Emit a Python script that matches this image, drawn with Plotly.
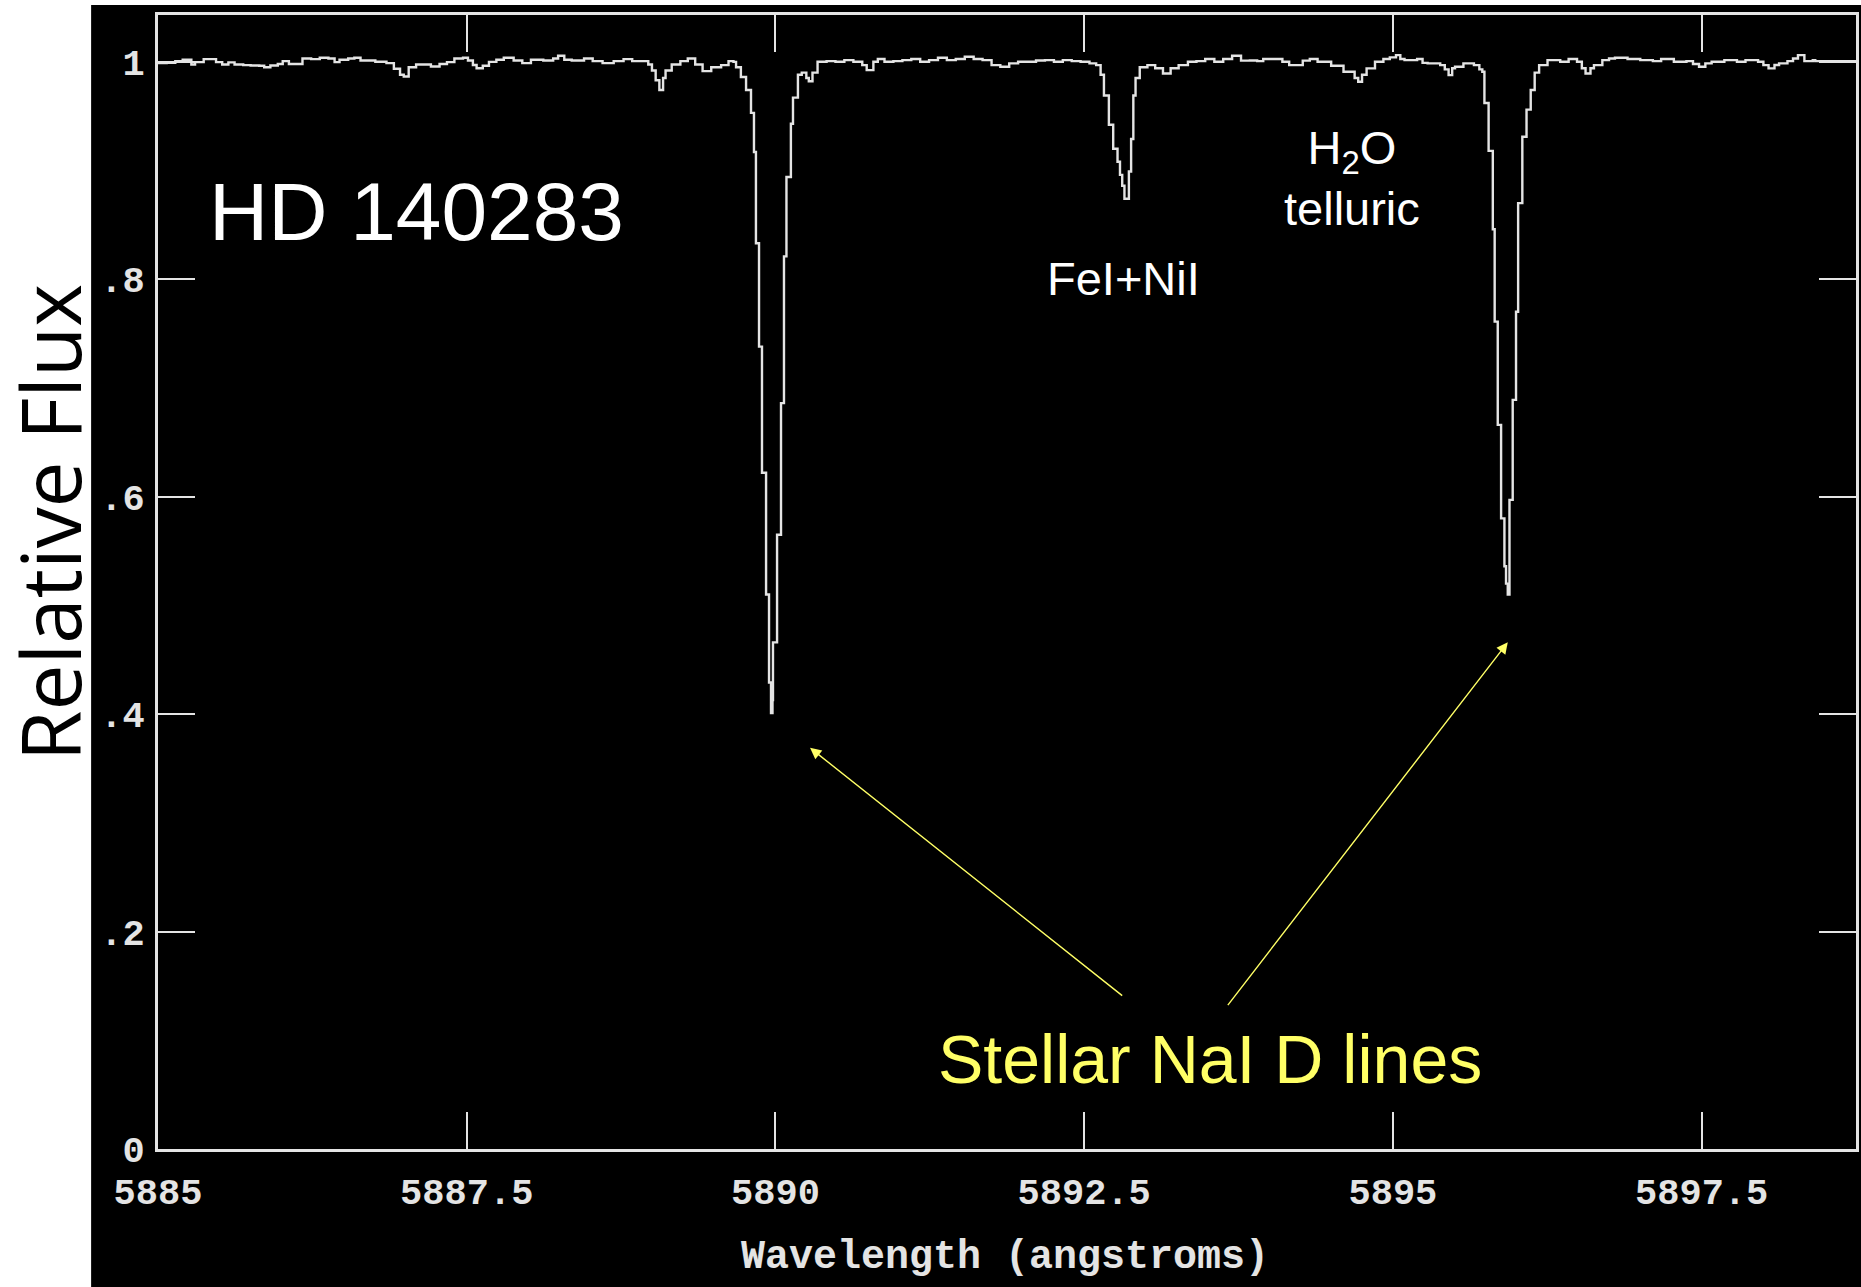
import plotly.graph_objects as go

# ---------------- spectrum of HD 140283 around the Na I D doublet ----------------
# wavelength in angstroms, flux normalised to the continuum (drawn as a step histogram)

wl_blue = [5885.00, 5885.07, 5885.14, 5885.20, 5885.27, 5885.30, 5885.37, 5885.44, 5885.47, 5885.52,
           5885.57, 5885.62, 5885.69, 5885.75, 5885.82, 5885.86, 5885.91, 5885.97, 5886.01, 5886.06,
           5886.12, 5886.17, 5886.24, 5886.31, 5886.38, 5886.43, 5886.47, 5886.54, 5886.59, 5886.64,
           5886.71, 5886.76, 5886.85, 5886.91, 5886.96, 5886.99, 5887.03, 5887.09, 5887.15, 5887.21,
           5887.28, 5887.34, 5887.40, 5887.47, 5887.51, 5887.55, 5887.58, 5887.63, 5887.68, 5887.74,
           5887.80, 5887.88, 5887.95, 5888.02, 5888.12, 5888.20, 5888.24, 5888.29, 5888.35, 5888.45,
           5888.52, 5888.60, 5888.69, 5888.77, 5888.84, 5888.92, 5888.97, 5889.00, 5889.03, 5889.06,
           5889.09, 5889.11, 5889.16, 5889.23, 5889.29, 5889.35, 5889.41, 5889.48, 5889.56, 5889.62,
           5889.66]
flux_blue = [0.9987, 0.9990, 1.0006, 1.0018, 0.9975, 0.9997, 1.0024, 1.0024, 0.9997, 0.9975,
             0.9994, 0.9975, 0.9969, 0.9966, 0.9963, 0.9950, 0.9966, 0.9980, 1.0006, 0.9980,
             0.9980, 1.0030, 1.0024, 1.0037, 1.0030, 0.9997, 1.0018, 1.0030, 1.0037, 1.0012,
             1.0012, 1.0000, 0.9987, 0.9935, 0.9880, 0.9865, 0.9950, 0.9975, 0.9975, 0.9957,
             0.9980, 0.9997, 1.0030, 1.0037, 1.0012, 0.9970, 0.9940, 0.9963, 0.9999, 1.0018,
             1.0037, 1.0012, 0.9987, 1.0018, 1.0012, 1.0030, 1.0055, 1.0018, 1.0012, 1.0030,
             1.0006, 0.9987, 1.0006, 1.0024, 1.0006, 1.0006, 0.9975, 0.9920, 0.9830, 0.9740,
             0.9850, 0.9920, 0.9975, 1.0006, 1.0030, 0.9975, 0.9914, 0.9950, 0.9969, 1.0006,
             0.9999]

# Na I D2
wl_d2 = [5889.681, 5889.720, 5889.762, 5889.802, 5889.826, 5889.842, 5889.867, 5889.891, 5889.924,
         5889.948, 5889.964, 5889.976, 5889.980, 5890.013, 5890.045, 5890.069, 5890.089, 5890.125,
         5890.142, 5890.182, 5890.213, 5890.250, 5890.270, 5890.300]
flux_d2 = [0.9950, 0.9860, 0.9740, 0.9530, 0.9170, 0.8330, 0.7380, 0.6220, 0.5100,
           0.4290, 0.4010, 0.4130, 0.4660, 0.5650, 0.6860, 0.8210, 0.8940, 0.9430,
           0.9670, 0.9880, 0.9900, 0.9850, 0.9820, 0.9900]

wl_mid = [5890.341, 5890.414, 5890.486, 5890.558, 5890.631, 5890.703, 5890.739, 5890.793, 5890.829,
          5890.883, 5890.955, 5891.028, 5891.100, 5891.172, 5891.244, 5891.316, 5891.388, 5891.460,
          5891.533, 5891.605, 5891.677, 5891.750, 5891.821, 5891.893, 5891.965, 5892.037, 5892.110,
          5892.182, 5892.255, 5892.327, 5892.399, 5892.471, 5892.543, 5892.597]
flux_mid = [1.0000, 1.0006, 1.0000, 1.0015, 1.0000, 0.9969, 0.9923, 1.0000, 1.0025,
            1.0000, 1.0006, 1.0015, 1.0025, 1.0000, 1.0015, 1.0037, 1.0015, 1.0025,
            1.0046, 1.0025, 1.0015, 0.9969, 0.9954, 0.9985, 1.0000, 1.0000, 1.0012,
            1.0015, 1.0000, 1.0015, 1.0006, 1.0000, 0.9985, 0.9969]

# Fe I + Ni I blend
wl_fe = [5892.633, 5892.660, 5892.700, 5892.735, 5892.770, 5892.790, 5892.808, 5892.826, 5892.862,
         5892.880, 5892.898, 5892.916, 5892.950, 5893.012, 5893.075, 5893.138, 5893.200, 5893.265,
         5893.340, 5893.409, 5893.480, 5893.554]
flux_fe = [0.9880, 0.9690, 0.9420, 0.9200, 0.9080, 0.8960, 0.8860, 0.8740, 0.8990,
           0.9290, 0.9690, 0.9850, 0.9950, 0.9969, 0.9940, 0.9892, 0.9940, 0.9969,
           1.0000, 1.0006, 1.0025, 1.0000]

wl_red = [5893.626, 5893.698, 5893.770, 5893.842, 5893.901, 5893.950, 5894.003, 5894.105, 5894.160,
          5894.208, 5894.270, 5894.327, 5894.390, 5894.446, 5894.500, 5894.548, 5894.600, 5894.651,
          5894.690, 5894.719, 5894.750, 5894.787, 5894.855, 5894.923, 5894.975, 5895.025, 5895.060,
          5895.094, 5895.196, 5895.240, 5895.281, 5895.383, 5895.420, 5895.451, 5895.480, 5895.503,
          5895.571, 5895.656, 5895.700, 5895.724]
flux_red = [1.0025, 1.0055, 1.0010, 1.0012, 1.0006, 1.0025, 1.0025, 1.0000, 0.9969,
            0.9969, 1.0010, 1.0025, 1.0000, 1.0000, 0.9963, 0.9963, 0.9908, 0.9908,
            0.9850, 0.9816, 0.9880, 0.9939, 1.0000, 1.0025, 1.0040, 1.0061, 1.0025,
            1.0015, 1.0025, 0.9990, 0.9985, 0.9969, 0.9930, 0.9877, 0.9940, 0.9954,
            0.9985, 0.9969, 0.9930, 0.9908]

# Na I D1
wl_d1 = [5895.741, 5895.775, 5895.809, 5895.824, 5895.849, 5895.876, 5895.903, 5895.916, 5895.930,
         5895.944, 5895.970, 5895.997, 5896.014, 5896.048, 5896.082, 5896.116, 5896.148]
flux_d1 = [0.9620, 0.9180, 0.8460, 0.7610, 0.6660, 0.5800, 0.5360, 0.5200, 0.5100,
           0.5970, 0.6890, 0.7700, 0.8700, 0.9310, 0.9560, 0.9740, 0.9900]

wl_tail = [5896.184, 5896.252, 5896.355, 5896.423, 5896.491, 5896.530, 5896.560, 5896.600, 5896.628,
           5896.696, 5896.750, 5896.798, 5896.900, 5897.003, 5897.105, 5897.172, 5897.275, 5897.377,
           5897.430, 5897.479, 5897.530, 5897.581, 5897.684, 5897.786, 5897.855, 5897.957, 5898.000,
           5898.042, 5898.090, 5898.127, 5898.195, 5898.240, 5898.280, 5898.332, 5898.400, 5898.420,
           5898.750]
flux_tail = [0.9969, 1.0015, 1.0000, 1.0025, 1.0000, 0.9940, 0.9892, 0.9940, 0.9969,
             1.0015, 1.0030, 1.0037, 1.0025, 1.0015, 1.0006, 1.0025, 1.0000, 1.0006,
             0.9980, 0.9954, 0.9985, 1.0000, 1.0015, 1.0000, 1.0015, 1.0000, 0.9969,
             0.9939, 0.9970, 0.9985, 1.0006, 1.0030, 1.0061, 1.0006, 1.0015, 1.0006,
             1.0006]

x_tickvals = [5885, 5887.5, 5890, 5892.5, 5895, 5897.5]
x_ticktext = ["5885", "5887.5", "5890", "5892.5", "5895", "5897.5"]
y_tickvals = [0, 0.2, 0.4, 0.6, 0.8, 1.0]
y_ticktext = ["0", ".2", ".4", ".6", ".8", "1"]

wavelength = wl_blue + wl_d2 + wl_mid + wl_fe + wl_red + wl_d1 + wl_tail
flux = flux_blue + flux_d2 + flux_mid + flux_fe + flux_red + flux_d1 + flux_tail

W, H = 1861, 1287
L, R, T, B = 158, 2, 15, 138
pw, ph = W - L - R, H - T - B


def px_to_paper_x(px):
    return (px - L) / pw


def px_to_paper_y(py):
    return (H - B - py) / ph


FG = "#e4e4e4"
YEL = "#ffff66"
MONO = "Liberation Mono"
SANS = "Liberation Sans"

fig = go.Figure()
fig.add_trace(go.Scatter(
    x=wavelength, y=flux, mode="lines",
    line=dict(color=FG, width=2.4, shape="hv"),
    hoverinfo="skip", showlegend=False,
))

axis_common = dict(
    showline=True, linecolor=FG, linewidth=3, mirror="ticks",
    ticks="inside", ticklen=37, tickwidth=2, tickcolor=FG,
    showgrid=False, zeroline=False,
    tickfont=dict(family=MONO, size=37, color=FG, weight="bold"),
)

fig.update_xaxes(range=[5885, 5898.75], tickvals=x_tickvals, ticktext=x_ticktext,
                 ticklabelstandoff=8, **axis_common)
fig.update_yaxes(range=[0, 1.043], tickvals=y_tickvals, ticktext=y_ticktext,
                 ticklabelstandoff=3, **axis_common)

annotations = [
    dict(text="Wavelength (angstroms)", xref="paper", yref="paper",
         x=px_to_paper_x(1006), y=px_to_paper_y(1257), xanchor="center", yanchor="middle",
         showarrow=False, font=dict(family=MONO, size=40, color=FG, weight="bold")),
    dict(text="Relative Flux", xref="paper", yref="paper",
         x=px_to_paper_x(49), y=px_to_paper_y(523), xanchor="center", yanchor="middle",
         textangle=-90, showarrow=False, borderpad=0,
         font=dict(family="Open Sans", size=82, color="#000000")),
    dict(text="HD 140283", xref="x", yref="y", x=5885.40, y=0.862,
         xanchor="left", yanchor="middle", showarrow=False,
         font=dict(family=SANS, size=82, color="#ffffff")),
    dict(text="FeI+NiI", xref="x", yref="y", x=5892.82, y=0.801,
         xanchor="center", yanchor="middle", showarrow=False,
         font=dict(family=SANS, size=47, color="#ffffff")),
    dict(text="H<sub>2</sub>O<br>telluric", xref="x", yref="y", x=5894.665, y=0.893,
         xanchor="center", yanchor="middle", showarrow=False,
         font=dict(family=SANS, size=47, color="#ffffff")),
    dict(text="Stellar NaI D lines", xref="x", yref="y", x=5893.52, y=0.083,
         xanchor="center", yanchor="middle", showarrow=False,
         font=dict(family=SANS, size=68, color=YEL)),
    # arrows pointing at the two sodium line cores
    dict(text="", xref="x", yref="y", x=5890.28, y=0.369,
         axref="x", ayref="y", ax=5892.82, ay=0.140,
         showarrow=True, arrowhead=2, arrowsize=1.6, arrowwidth=1.4, arrowcolor=YEL),
    dict(text="", xref="x", yref="y", x=5895.93, y=0.466,
         axref="x", ayref="y", ax=5893.654, ay=0.131,
         showarrow=True, arrowhead=2, arrowsize=1.6, arrowwidth=1.4, arrowcolor=YEL),
]

# black panel behind the plot, leaving a white strip on the left and top
shapes = [dict(type="rect", xref="paper", yref="paper",
               x0=px_to_paper_x(91), x1=px_to_paper_x(W + 5),
               y0=px_to_paper_y(H + 5), y1=px_to_paper_y(5),
               fillcolor="#000000", line=dict(width=0), layer="below")]

fig.update_layout(
    width=W, height=H,
    margin=dict(l=L, r=R, t=T, b=B, pad=0),
    paper_bgcolor="#ffffff", plot_bgcolor="#000000",
    annotations=annotations, shapes=shapes,
    showlegend=False,
)

fig.write_html("out.html")
